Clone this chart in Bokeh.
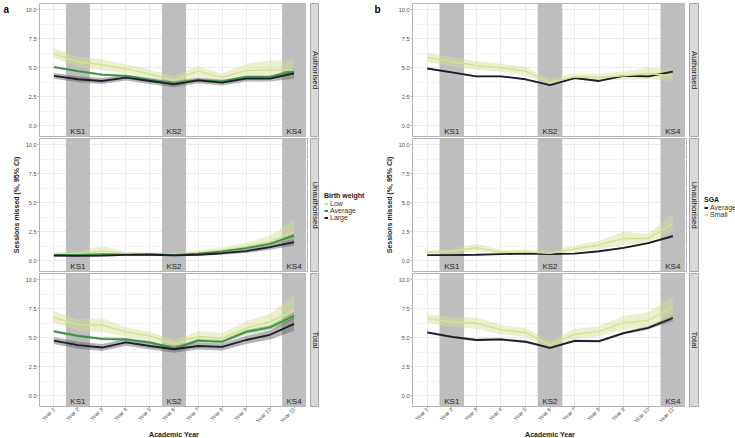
import math
from bokeh.plotting import figure
from bokeh.layouts import row, column
from bokeh.models import (Range1d, FixedTicker, PrintfTickFormatter, BoxAnnotation,
                          Legend, LegendItem)
from bokeh.embed import file_html
from bokeh.resources import INLINE
from bokeh.core.properties import value

FONT = "Liberation Sans"

# ---------------- data ----------------
years = list(range(1, 12))
year_labels = ["Year %d" % y for y in years]
y_ticks = [0.0, 2.5, 5.0, 7.5, 10.0]
y_minor = [1.25, 3.75, 6.25, 8.75]
measures = ["Authorised", "Unauthorised", "Total"]
ks_labels = ["KS1", "KS2", "KS4"]
ks_years = [2, 6, 11]
ks_label_y = -0.5

# Panel a: birth weight (Low, Average, Large)
a_auth_low = [6.2, 5.5, 5.25, 4.9, 4.45, 3.9, 4.7, 4.15, 4.75, 4.8, 4.8]
a_auth_low_lo = [5.85, 5.05, 4.8, 4.5, 4.05, 3.55, 4.25, 3.8, 4.15, 4.0, 4.05]
a_auth_low_hi = [6.65, 5.95, 5.7, 5.3, 4.85, 4.25, 5.15, 4.5, 5.35, 5.65, 5.6]
a_auth_avg = [5.05, 4.7, 4.4, 4.3, 3.95, 3.65, 3.95, 3.8, 4.2, 4.2, 4.65]
a_auth_avg_lo = [4.95, 4.6, 4.3, 4.2, 3.85, 3.55, 3.85, 3.7, 4.1, 4.1, 4.45]
a_auth_avg_hi = [5.15, 4.8, 4.5, 4.4, 4.05, 3.75, 4.05, 3.9, 4.3, 4.3, 4.85]
a_auth_large = [4.3, 4.0, 3.85, 4.15, 3.85, 3.55, 3.9, 3.7, 4.05, 4.05, 4.5]
a_auth_large_lo = [4.05, 3.75, 3.6, 3.9, 3.6, 3.3, 3.65, 3.45, 3.8, 3.8, 4.05]
a_auth_large_hi = [4.55, 4.25, 4.1, 4.4, 4.1, 3.8, 4.15, 3.95, 4.3, 4.3, 4.95]

a_unauth_low = [0.55, 0.6, 0.82, 0.6, 0.58, 0.55, 0.68, 0.9, 1.2, 1.65, 2.45]
a_unauth_low_lo = [0.42, 0.45, 0.5, 0.48, 0.47, 0.44, 0.55, 0.7, 0.9, 1.25, 1.6]
a_unauth_low_hi = [0.7, 0.78, 1.25, 0.75, 0.7, 0.68, 0.85, 1.15, 1.55, 2.15, 3.6]
a_unauth_avg = [0.5, 0.5, 0.55, 0.52, 0.55, 0.5, 0.6, 0.8, 1.07, 1.45, 2.15]
a_unauth_avg_lo = [0.46, 0.46, 0.5, 0.48, 0.51, 0.46, 0.55, 0.74, 1.0, 1.35, 1.95]
a_unauth_avg_hi = [0.54, 0.54, 0.6, 0.56, 0.59, 0.54, 0.65, 0.86, 1.14, 1.55, 2.35]
a_unauth_large = [0.42, 0.4, 0.42, 0.48, 0.5, 0.45, 0.5, 0.63, 0.82, 1.15, 1.6]
a_unauth_large_lo = [0.34, 0.32, 0.34, 0.4, 0.42, 0.37, 0.41, 0.5, 0.65, 0.92, 1.3]
a_unauth_large_hi = [0.5, 0.48, 0.5, 0.56, 0.58, 0.53, 0.59, 0.76, 0.99, 1.38, 1.9]

a_total_low = [6.75, 6.1, 6.1, 5.5, 5.15, 4.45, 5.1, 4.95, 5.8, 6.4, 7.35]
a_total_low_lo = [6.3, 5.6, 5.5, 5.1, 4.8, 4.1, 4.7, 4.55, 5.2, 5.7, 6.1]
a_total_low_hi = [7.3, 6.6, 6.7, 5.9, 5.5, 4.8, 5.55, 5.4, 6.4, 7.1, 8.7]
a_total_avg = [5.55, 5.15, 4.9, 4.85, 4.6, 4.07, 4.75, 4.65, 5.5, 5.9, 6.9]
a_total_avg_lo = [5.42, 5.02, 4.77, 4.72, 4.47, 3.94, 4.6, 4.5, 5.33, 5.72, 6.6]
a_total_avg_hi = [5.68, 5.28, 5.03, 4.98, 4.73, 4.2, 4.9, 4.8, 5.67, 6.08, 7.2]
a_total_large = [4.75, 4.35, 4.15, 4.6, 4.28, 4.0, 4.28, 4.2, 4.8, 5.25, 6.2]
a_total_large_lo = [4.45, 4.05, 3.85, 4.3, 3.98, 3.7, 3.98, 3.9, 4.45, 4.85, 5.6]
a_total_large_hi = [5.05, 4.65, 4.45, 4.9, 4.58, 4.3, 4.58, 4.5, 5.15, 5.65, 6.8]

# Panel b: SGA (Average, Small)
b_auth_avg = [4.93, 4.6, 4.25, 4.25, 4.0, 3.5, 4.1, 3.85, 4.3, 4.25, 4.65]
b_auth_avg_lo = [4.86, 4.53, 4.18, 4.18, 3.93, 3.43, 4.03, 3.78, 4.22, 4.16, 4.52]
b_auth_avg_hi = [5.0, 4.67, 4.32, 4.32, 4.07, 3.57, 4.17, 3.92, 4.38, 4.34, 4.78]
b_auth_small = [5.9, 5.5, 5.2, 5.0, 4.7, 3.7, 4.2, 4.15, 4.3, 4.5, 4.3]
b_auth_small_lo = [5.5, 5.1, 4.85, 4.65, 4.35, 3.45, 3.95, 3.9, 3.95, 4.0, 3.85]
b_auth_small_hi = [6.3, 5.9, 5.55, 5.35, 5.05, 4.0, 4.5, 4.45, 4.7, 5.0, 4.85]

b_unauth_avg = [0.46, 0.47, 0.5, 0.55, 0.6, 0.55, 0.6, 0.8, 1.1, 1.5, 2.1]
b_unauth_avg_lo = [0.43, 0.44, 0.47, 0.52, 0.57, 0.52, 0.56, 0.75, 1.04, 1.42, 1.97]
b_unauth_avg_hi = [0.49, 0.5, 0.53, 0.58, 0.63, 0.58, 0.64, 0.85, 1.16, 1.58, 2.23]
b_unauth_small = [0.7, 0.8, 1.1, 0.72, 0.75, 0.62, 1.0, 1.35, 1.9, 1.9, 3.2]
b_unauth_small_lo = [0.55, 0.6, 0.8, 0.6, 0.6, 0.5, 0.75, 1.0, 1.35, 1.55, 2.5]
b_unauth_small_hi = [0.85, 1.0, 1.45, 0.9, 0.95, 0.78, 1.3, 1.7, 2.5, 2.3, 4.1]

b_total_avg = [5.45, 5.07, 4.8, 4.85, 4.65, 4.12, 4.73, 4.7, 5.4, 5.85, 6.7]
b_total_avg_lo = [5.35, 4.97, 4.7, 4.75, 4.55, 4.02, 4.62, 4.59, 5.28, 5.7, 6.45]
b_total_avg_hi = [5.55, 5.17, 4.9, 4.95, 4.75, 4.22, 4.84, 4.81, 5.52, 6.0, 6.95]
b_total_small = [6.65, 6.35, 6.25, 5.7, 5.45, 4.35, 5.3, 5.55, 6.3, 6.5, 7.65]
b_total_small_lo = [6.3, 5.95, 5.75, 5.3, 5.05, 4.05, 4.9, 5.1, 5.7, 5.85, 6.7]
b_total_small_hi = [7.0, 6.8, 6.75, 6.1, 5.85, 4.7, 5.75, 6.0, 6.9, 7.2, 8.6]

bw_names = ["Low", "Average", "Large"]
sga_names = ["Average", "Small"]

# ---------------- styles ----------------
C_LIGHT = "#d2e192"
C_GREEN = "#3c8f47"
C_DARK = "#1d1d2c"
BAND = "#bebebe"
FRAME_H = 133
TOP_PAD = 3
BOTTOM_AXIS = 31
TOTAL_H = TOP_PAD + 3 * FRAME_H + 4 + BOTTOM_AXIS

style = {
    "Low": (C_LIGHT, C_LIGHT, 0.45, 1.4),
    "Small": (C_LIGHT, C_LIGHT, 0.45, 1.4),
    "Average_a": (C_GREEN, "#4fa257", 0.45, 1.7),
    "Large": (C_DARK, "#5a5a5a", 0.45, 1.8),
    "Average_b": (C_DARK, "#5a5a5a", 0.45, 1.8),
}


def facet(series, pos, frame_w, border_l, ylabel=None, xlabel=None):
    show_x = pos == 2
    p = figure(frame_width=frame_w, frame_height=FRAME_H, output_backend="svg",
               toolbar_location=None,
               x_range=Range1d(0.4, 11.6), y_range=Range1d(-0.95, 10.55),
               x_axis_location="below" if show_x else None,
               min_border_left=border_l, min_border_right=0,
               min_border_top=TOP_PAD if pos == 0 else 1,
               min_border_bottom=BOTTOM_AXIS if show_x else 1,
               background_fill_color="white", border_fill_color="white")
    p.outline_line_color = "#b3b3b3"
    p.xgrid.ticker = FixedTicker(ticks=years)
    p.xgrid.grid_line_color = "#ebebeb"
    p.ygrid.ticker = FixedTicker(ticks=y_ticks, minor_ticks=y_minor)
    p.ygrid.grid_line_color = "#ebebeb"
    p.ygrid.minor_grid_line_color = "#f5f5f5"

    for k in ks_years:
        p.add_layout(BoxAnnotation(left=k - 0.5, right=k + 0.5, fill_color=BAND,
                                   fill_alpha=1.0, line_color=None, level="underlay"))
    for name, mean, lo, hi in series:
        lc, fc, fa, lw = style[name]
        p.varea(x=years, y1=lo, y2=hi, fill_color=fc, fill_alpha=fa)
    for name, mean, lo, hi in series:
        lc, fc, fa, lw = style[name]
        p.line(x=years, y=mean, line_color=lc, line_width=lw)

    p.text(x=ks_years, y=[ks_label_y] * len(ks_years), text=ks_labels,
           text_font=value(FONT), text_font_size="8px", text_color="#262626",
           text_align="center", text_baseline="middle")

    ya = p.yaxis[0]
    ya.ticker = FixedTicker(ticks=y_ticks)
    ya.formatter = PrintfTickFormatter(format="%.1f")
    ya.major_label_text_font = FONT
    ya.major_label_text_font_size = "5.5px"
    ya.major_label_text_color = "#4d4d4d"
    ya.major_label_standoff = 1
    ya.major_tick_out = 2
    ya.major_tick_in = 0
    ya.minor_tick_out = 0
    ya.minor_tick_in = 0
    ya.major_tick_line_color = "#b3b3b3"
    ya.axis_line_color = None
    if ylabel:
        ya.axis_label = ylabel
        ya.axis_label_text_font = FONT
        ya.axis_label_text_font_size = "7px"
        ya.axis_label_text_font_style = "bold"
        ya.axis_label_text_color = "#1a1a1a"
        ya.axis_label_standoff = 3
    if show_x:
        xa = p.xaxis[0]
        xa.ticker = FixedTicker(ticks=years)
        xa.major_label_overrides = {y: lab for y, lab in zip(years, year_labels)}
        xa.major_label_orientation = math.pi / 4
        xa.major_label_text_font = FONT
        xa.major_label_text_font_size = "5.5px"
        xa.major_label_text_color = "#4d4d4d"
        xa.major_label_standoff = 0
        xa.major_tick_out = 2
        xa.major_tick_in = 0
        xa.minor_tick_out = 0
        xa.minor_tick_in = 0
        xa.major_tick_line_color = "#b3b3b3"
        xa.axis_line_color = None
        xa.axis_label = xlabel
        xa.axis_label_text_font = FONT
        xa.axis_label_text_font_size = "7px"
        xa.axis_label_text_font_style = "bold"
        xa.axis_label_text_color = "#1a1a1a"
        xa.axis_label_standoff = 2
    return p


def strip(label, pos, frame_w):
    s = figure(frame_width=frame_w, frame_height=FRAME_H, x_range=Range1d(0, 1),
               y_range=Range1d(0, 1), x_axis_location=None, y_axis_location=None,
               toolbar_location=None, output_backend="svg",
               min_border_left=2, min_border_right=0,
               min_border_top=TOP_PAD if pos == 0 else 1,
               min_border_bottom=BOTTOM_AXIS if pos == 2 else 1,
               background_fill_color="#d9d9d9", border_fill_color="white")
    s.outline_line_color = "#a6a6a6"
    s.grid.visible = False
    s.text(x=[0.5], y=[0.5], text=[label], angle=-math.pi / 2,
           text_align="center", text_baseline="middle", text_font=value(FONT),
           text_font_size="8px", text_color="#1a1a1a")
    return s


def legend_fig(title, names, colors, width, box_bottom):
    f = figure(frame_width=width, frame_height=TOTAL_H, x_range=Range1d(0, 1),
               y_range=Range1d(0, 1), x_axis_location=None, y_axis_location=None,
               toolbar_location=None, output_backend="svg", min_border=0,
               border_fill_color="white", background_fill_color="white")
    f.outline_line_color = None
    f.grid.visible = False
    items = []
    for n, c in zip(names, colors):
        r = f.line(x=[float("nan")], y=[float("nan")], line_color=c, line_width=2)
        items.append(LegendItem(label=n, renderers=[r]))
    leg = Legend(items=items, title=title, location=(5, TOTAL_H - box_bottom),
                 title_text_font=FONT, title_text_font_size="7px",
                 title_text_font_style="bold", title_text_color="#1a1a1a",
                 title_standoff=1,
                 label_text_font=FONT, label_text_font_size="7px",
                 label_text_color="#333333", label_height=7, glyph_height=7,
                 glyph_width=4, label_standoff=2, spacing=0, padding=0, margin=0,
                 border_line_color=None, background_fill_alpha=0)
    f.add_layout(leg)
    return f


def letter_fig(ch, width, x0):
    f = figure(frame_width=width, frame_height=TOTAL_H, x_range=Range1d(0, width),
               y_range=Range1d(0, TOTAL_H), x_axis_location=None, y_axis_location=None,
               toolbar_location=None, output_backend="svg", min_border=0,
               border_fill_color="white", background_fill_color="white")
    f.outline_line_color = None
    f.grid.visible = False
    f.text(x=[x0], y=[TOTAL_H - 3], text=[ch], text_font=value(FONT),
           text_font_size="10px", text_font_style="bold", text_baseline="top",
           text_align="left", text_color="#000000")
    return f


a_series = [
    [("Low", a_auth_low, a_auth_low_lo, a_auth_low_hi),
     ("Average_a", a_auth_avg, a_auth_avg_lo, a_auth_avg_hi),
     ("Large", a_auth_large, a_auth_large_lo, a_auth_large_hi)],
    [("Low", a_unauth_low, a_unauth_low_lo, a_unauth_low_hi),
     ("Average_a", a_unauth_avg, a_unauth_avg_lo, a_unauth_avg_hi),
     ("Large", a_unauth_large, a_unauth_large_lo, a_unauth_large_hi)],
    [("Low", a_total_low, a_total_low_lo, a_total_low_hi),
     ("Average_a", a_total_avg, a_total_avg_lo, a_total_avg_hi),
     ("Large", a_total_large, a_total_large_lo, a_total_large_hi)],
]
b_series = [
    [("Average_b", b_auth_avg, b_auth_avg_lo, b_auth_avg_hi),
     ("Small", b_auth_small, b_auth_small_lo, b_auth_small_hi)],
    [("Average_b", b_unauth_avg, b_unauth_avg_lo, b_unauth_avg_hi),
     ("Small", b_unauth_small, b_unauth_small_lo, b_unauth_small_hi)],
    [("Average_b", b_total_avg, b_total_avg_lo, b_total_avg_hi),
     ("Small", b_total_small, b_total_small_lo, b_total_small_hi)],
]

YLAB = "Sessions missed (%, 95% CI)"
XLAB = "Academic Year"


def half(series, letter, letter_w, letter_x, border_l, frame_w, strip_w,
         leg_title, leg_names, leg_colors, leg_w, leg_bottom):
    facets = [facet(series[i], i, frame_w, border_l,
                    ylabel=YLAB if i == 1 else None,
                    xlabel=XLAB if i == 2 else None) for i in range(3)]
    strips = [strip(m, i, strip_w) for i, m in enumerate(measures)]
    return [letter_fig(letter, letter_w, letter_x), column(*facets), column(*strips),
            legend_fig(leg_title, leg_names, leg_colors, leg_w, leg_bottom)]


left = half(a_series, "a", 9, 3, 28, 269, 9, "Birth weight", bw_names,
            [C_LIGHT, C_GREEN, C_DARK], 51, 221)
right = half(b_series, "b", 12, 4, 28, 275, 10, "SGA", sga_names,
             [C_DARK, C_LIGHT], 39, 218)

layout = row(*(left + right))

open("out.html", "w").write(file_html(layout, INLINE))
